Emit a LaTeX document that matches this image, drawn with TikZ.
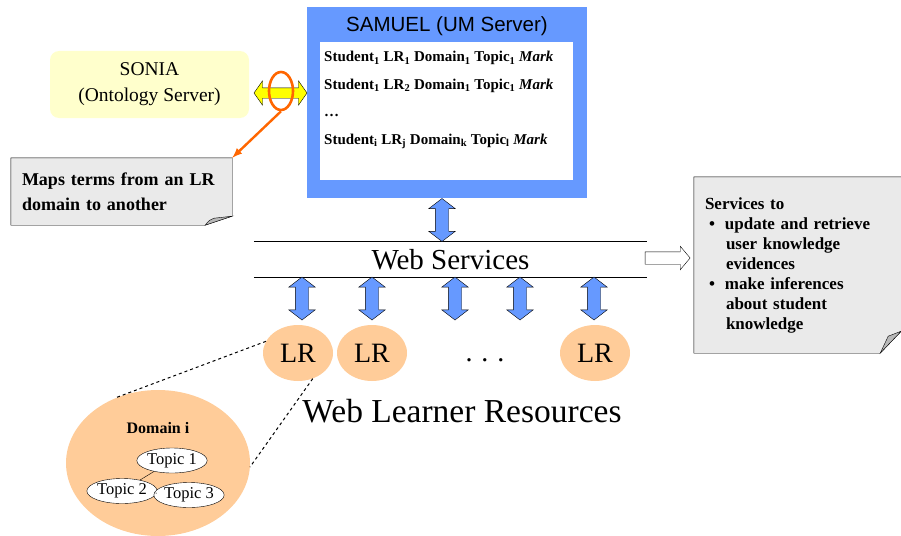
\documentclass[tikz,border=0pt]{standalone}
\usepackage{fontspec}
\setmainfont{Liberation Serif}
\newfontfamily\titlefont{Liberation Sans}
\usepackage{tikz}
\usetikzlibrary{shapes.arrows,shapes.geometric,backgrounds}

\definecolor{umblue}{HTML}{6699FF}
\definecolor{lrpeach}{HTML}{FFCC99}
\definecolor{ontoyellow}{HTML}{FFFFCC}
\definecolor{linkyellow}{HTML}{FFFF00}
\definecolor{hilite}{HTML}{FF6600}
\definecolor{notegray}{HTML}{EAEAEA}
\definecolor{foldgray}{HTML}{B8B8B8}

\begin{document}
\begin{tikzpicture}[x=1pt,y=-1pt,
	fatarrow/.style={double arrow, draw=black, fill=umblue, minimum height=43pt,
		double arrow head extend=6.5pt, double arrow tip angle=105, inner xsep=0pt, inner ysep=6.5pt, rotate=90},
	lrnode/.style={ellipse, fill=lrpeach, minimum width=70pt, minimum height=56pt, inner sep=0pt,
		font=\fontsize{28}{28}\selectfont},
	topicnode/.style={ellipse, draw=black, fill=white, minimum width=60pt, minimum height=25pt,
		inner sep=0pt, font=\fontsize{16.5}{16.5}\selectfont},
	notebox/.style={rectangle, inner xsep=11pt, inner ysep=0pt, align=left},
	recline/.style={anchor=base west, inner sep=0pt, font=\bfseries\fontsize{15}{15}\selectfont}
]
\useasboundingbox (0,0) rectangle (901,535);

\node (samuel) [fill=umblue, minimum width=280pt, minimum height=191pt, inner sep=0pt] at (447,102.5) {};
\node (samtitle) [font=\titlefont\fontsize{20.5}{20.5}\selectfont] at (447,26) {SAMUEL (UM Server)};
\node (records) [fill=white, minimum width=253pt, minimum height=138pt, inner sep=0pt] at (446.5,111) {};
\node (rec1) [recline] at (324,62) {Student\textsubscript{1} LR\textsubscript{1} Domain\textsubscript{1} Topic\textsubscript{1} \textit{Mark}};
\node (rec2) [recline] at (324,89) {Student\textsubscript{1} LR\textsubscript{2} Domain\textsubscript{1} Topic\textsubscript{1} \textit{Mark}};
\node (rec3) [recline] at (324,116) {\dots};
\node (rec4) [recline] at (324,144) {Student\textsubscript{i} LR\textsubscript{j} Domain\textsubscript{k} Topic\textsubscript{l} \textit{Mark}};

\node (sonia) [rounded corners=9pt, fill=ontoyellow, minimum width=199pt, minimum height=67pt,
	align=center, font=\fontsize{19.5}{26}\selectfont] at (149.5,84.5) {SONIA\\(Ontology Server)};

\node (maplink) [double arrow, draw=black, fill=linkyellow, minimum height=53pt,
	double arrow head extend=7pt, double arrow tip angle=110, inner xsep=0pt, inner ysep=5pt] at (280.5,93) {};
\node (focus) [ellipse, draw=hilite, line width=2.6pt, minimum width=24pt, minimum height=38pt, inner sep=0pt] at (281,91) {};

\node (maps) [notebox, text width=199pt, minimum height=67pt, font=\bfseries\fontsize{18}{25.5}\selectfont]
	at (121.5,191.5) {Maps terms from an LR\\domain to another};
\begin{scope}[on background layer]
	\draw[fill=notegray] (maps.north west) -- (maps.north east) -- ([yshift=9pt]maps.south east)
		-- ([xshift=-27pt]maps.south east) -- (maps.south west) -- cycle;
	\draw[fill=foldgray] ([xshift=-27pt]maps.south east) .. controls ([xshift=-23pt,yshift=5pt]maps.south east)
		.. ([xshift=-18pt,yshift=7pt]maps.south east) -- ([yshift=9pt]maps.south east) -- cycle;
\end{scope}
\draw[->, draw=hilite, line width=2.4pt, >=latex] (focus.south) -- (maps.north east);

\node (ws) [minimum width=393pt, minimum height=35pt, inner sep=0pt, font=\fontsize{29}{29}\selectfont]
	at (450.5,259.5) {Web Services};
\draw[line width=1.2pt] (ws.north west) -- (ws.north east);
\draw[line width=1.2pt] (ws.south west) -- (ws.south east);

\node (umlink) [fatarrow, minimum height=43pt] at (442,220) {};

\node (services) [notebox, text width=185pt, minimum height=176pt,
	font=\bfseries\fontsize{17}{20}\selectfont] at (797.5,265) {%
	Services to\\
	\hspace*{4pt}\textbullet\hspace{10pt}update and retrieve\\
	\hspace*{21pt}user knowledge\\
	\hspace*{21pt}evidences\\
	\hspace*{4pt}\textbullet\hspace{10pt}make inferences\\
	\hspace*{21pt}about student\\
	\hspace*{21pt}knowledge\\[16pt]};
\begin{scope}[on background layer]
	\draw[fill=notegray] (services.north west) -- (services.north east) -- ([yshift=22pt]services.south east)
		-- ([xshift=-21pt]services.south east) -- (services.south west) -- cycle;
	\draw[fill=foldgray] ([xshift=-21pt]services.south east) .. controls ([xshift=-17pt,yshift=8pt]services.south east)
		.. ([xshift=-13pt,yshift=17pt]services.south east) -- ([yshift=22pt]services.south east) -- cycle;
\end{scope}
\node (wsout) [single arrow, draw=black, fill=white, minimum height=45pt,
	single arrow head extend=5.5pt, single arrow tip angle=100, inner xsep=0pt, inner ysep=6pt] at (665,258) {};

\foreach \xa/\name in {302/a, 372/b, 455/c, 520/d, 594/e}
	\node (down\name) [fatarrow] at (\xa,298.5) {};

\node (lr1) [lrnode] at (298,353) {LR};
\node (lr2) [lrnode] at (372,353) {LR};
\node (lrdots) [font=\fontsize{28}{28}\selectfont] at (485,360) {.\hspace{9pt}.\hspace{9pt}.};
\node (lr3) [lrnode] at (595,353) {LR};
\node (wlr) [font=\fontsize{33.5}{33.5}\selectfont] at (462,411) {Web Learner Resources};

\node (domain) [ellipse, fill=lrpeach, minimum width=184pt, minimum height=146pt] at (158,463) {};
\coordinate (zoomtop) at (115,398);
\coordinate (zoombot) at (250,467);
\draw[dashed, line width=1pt] (lr1.160) -- (zoomtop);
\draw[dashed, line width=1pt] (lr1.-60) -- (zoombot);
\node (domtitle) [font=\bfseries\fontsize{16}{16}\selectfont] at (158,428) {Domain i};
\node (topic1) [topicnode] at (172,460.5) {Topic 1};
\node (topic2) [topicnode, minimum width=57pt] at (122,491) {Topic 2};
\node (topic3) [topicnode, minimum width=62pt] at (189,495) {Topic 3};
\draw (topic1) -- (topic2);
\draw (topic2) -- (topic3);
\end{tikzpicture}
\end{document}
